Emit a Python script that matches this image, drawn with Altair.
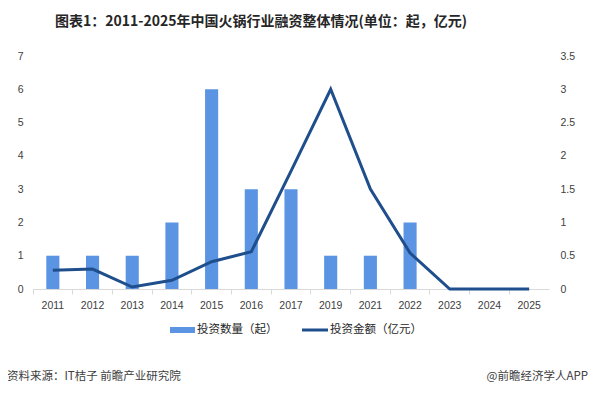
import altair as alt
import pandas as pd

years = ["2011", "2012", "2013", "2014", "2015", "2016", "2017", "2019",
         "2021", "2022", "2023", "2024", "2025"]
counts = [1, 1, 1, 2, 6, 3, 3, 1, 1, 2, 0, 0, 0]
amounts = [0.28, 0.30, 0.03, 0.13, 0.41, 0.56, 1.77, 3.0, 1.5, 0.54, 0, 0, 0]

title_text = "图表1：2011-2025年中国火锅行业融资整体情况(单位：起，亿元)"
legend_bar = "投资数量（起）"
legend_line = "投资金额（亿元）"
source_text = "资料来源：IT桔子 前瞻产业研究院"
brand_text = "@前瞻经济学人APP"

df = pd.DataFrame({"year": years, "count": counts, "amount": amounts})

CJK = "Noto Sans CJK SC"
BAR_COLOR = "#5b94e3"
LINE_COLOR = "#1f4e8c"

x_enc = alt.X(
    "year:N",
    sort=None,
    scale=alt.Scale(paddingInner=0, paddingOuter=0),
    axis=alt.Axis(
        title=None, labelAngle=0, labelFont="Liberation Sans", labelFontSize=10.5,
        labelColor="#404040", labelPadding=6, domainColor="#d9d9d9",
        tickColor="#d9d9d9", tickSize=5, bandPosition=0, grid=False,
    ),
)

bars = alt.Chart(df).mark_bar(
    color=BAR_COLOR, width=alt.RelativeBandSize(0.33)
).encode(
    x=x_enc,
    y=alt.Y(
        "count:Q",
        scale=alt.Scale(domain=[0, 7], nice=False),
        axis=alt.Axis(
            title=None, values=[0, 1, 2, 3, 4, 5, 6, 7], domain=False, ticks=False,
            grid=False, labelFont="Liberation Sans", labelFontSize=10.5,
            labelColor="#404040", labelPadding=10,
        ),
    ),
)

line = alt.Chart(df).mark_line(color=LINE_COLOR, strokeWidth=3).encode(
    x=alt.X("year:N", sort=None),
    y=alt.Y(
        "amount:Q",
        scale=alt.Scale(domain=[0, 3.5], nice=False),
        axis=alt.Axis(
            title=None, orient="right", values=[0, 0.5, 1, 1.5, 2, 2.5, 3, 3.5],
            format="~g", domain=False, ticks=False, grid=False,
            labelFont="Liberation Sans", labelFontSize=10.5, labelColor="#404040",
            labelPadding=11,
        ),
    ),
)

main = alt.layer(bars, line).resolve_scale(y="independent")

one = pd.DataFrame({"k": [0]})


def label(text, x, y, size, align="left", weight="normal", color="#333333"):
    return alt.Chart(one).mark_text(
        text=text, font=CJK, fontSize=size, fontWeight=weight, align=align,
        baseline="middle", color=color,
    ).encode(x=alt.value(x), y=alt.value(y))


title = label(title_text, 228, -34, 14, align="center", weight="bold", color="#262626")

leg_bar = alt.Chart(one).mark_rect(color=BAR_COLOR).encode(
    x=alt.value(137), x2=alt.value(162), y=alt.value(271), y2=alt.value(277)
)
leg_bar_t = label(legend_bar, 164, 274, 11.5, color="#262626")
leg_line = alt.Chart(one).mark_rule(color=LINE_COLOR, strokeWidth=3).encode(
    x=alt.value(269), x2=alt.value(295), y=alt.value(274)
)
leg_line_t = label(legend_line, 297, 274, 11.5, color="#262626")

src = label(source_text, -26, 321, 11.5, color="#404040")
brand = label(brand_text, 555, 321, 11.5, align="right", color="#404040")

chart = alt.layer(
    main, title, leg_bar, leg_bar_t, leg_line, leg_line_t, src, brand
).properties(
    width=516, height=233,
    autosize=alt.AutoSizeParams(type="none"),
    padding={"left": 25, "top": 48, "right": 40, "bottom": 95},
).configure_view(stroke=None)

chart.save("out.html", embed_options={"renderer": "svg", "actions": False})
